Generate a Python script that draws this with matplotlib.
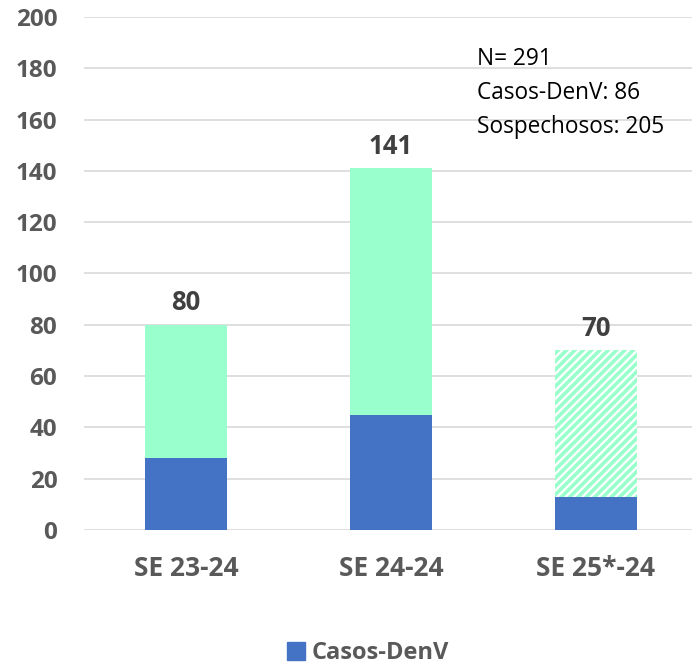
import matplotlib.pyplot as plt
from matplotlib.patches import Patch

# data
categories = ["SE 23-24", "SE 24-24", "SE 25*-24"]
casos_denv = [28, 45, 13]
totales = [80, 141, 70]
sospechosos = [t - c for t, c in zip(totales, casos_denv)]
hatched = [False, False, True]
resumen = ["N= 291", "Casos-DenV: 86", "Sospechosos: 205"]

BLUE, MINT, GRAY, GRID = "#4472C4", "#99FFCC", "#595959", "#D9D9D9"
plt.rcParams.update({"font.family": ["Open Sans", "DejaVu Sans"], "hatch.linewidth": 2.6})

fig = plt.figure(figsize=(6.92, 6.68), dpi=100)
ax = fig.add_axes([0.121, 0.2066, 0.879, 0.768])

x = range(len(categories))
ax.bar(x, casos_denv, 0.4, color=BLUE, zorder=3)
for i in x:
    if hatched[i]:
        ax.bar(i, sospechosos[i], 0.4, bottom=casos_denv[i], facecolor="white",
               edgecolor=MINT, hatch="////", lw=0, zorder=3)
    else:
        ax.bar(i, sospechosos[i], 0.4, bottom=casos_denv[i], color=MINT, zorder=3)
    ax.annotate(f"{totales[i]}", (i, totales[i]), xytext=(0, 6), textcoords="offset points",
                ha="center", va="bottom", fontsize=18.5, fontweight="bold", color="#404040")

ax.set_ylim(0, 200); ax.set_xlim(-0.5, 2.47)
ax.set_yticks(range(0, 201, 20))
ax.set_xticks(list(x)); ax.set_xticklabels(categories)
ax.tick_params(axis="y", length=0, labelsize=17.5, labelcolor=GRAY, pad=19)
ax.tick_params(axis="x", length=0, labelsize=19, labelcolor=GRAY, pad=18)
for lab in ax.get_xticklabels() + ax.get_yticklabels():
    lab.set_fontweight("bold")
ax.grid(axis="y", color=GRID, lw=1.2, zorder=0)
for s in ax.spines.values():
    s.set_visible(False)

ax.text(0.646, 0.942, "\n".join(resumen), transform=ax.transAxes, ha="left", va="top",
        fontsize=16.3, color="black", linespacing=1.55)

fig.legend(handles=[Patch(color=BLUE, label="Casos-DenV")], loc="center", bbox_to_anchor=(0.532, 0.022),
           frameon=False, handlelength=0.75, handleheight=0.75, handletextpad=0.3,
           prop={"size": 17, "weight": "bold"}, labelcolor=GRAY)

fig.savefig("out.png", dpi=100)
